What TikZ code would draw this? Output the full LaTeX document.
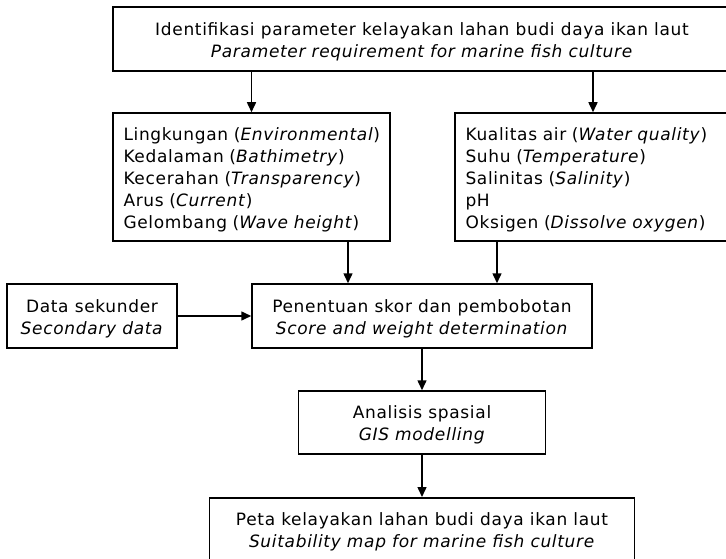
\documentclass[tikz,border=0pt]{standalone}
\usepackage{fontspec}
\setmainfont{DejaVu Sans}[LetterSpace=4]
\usetikzlibrary{arrows.meta}
\newcommand\topstrut{\rule{0pt}{18pt}}
\begin{document}
\begin{tikzpicture}[x=1pt,y=-1pt,
  box/.style={draw, line width=1.5pt, inner sep=0pt, align=center,
    font=\fontsize{17}{22}\selectfont},
  listbox/.style={draw, line width=1.5pt, inner xsep=10.5pt, inner ysep=0pt, align=left,
    font=\fontsize{17}{22}\selectfont},
  arr/.style={line width=1.5pt, -{Triangle[length=10pt,width=9pt]}}]
\useasboundingbox (0,0) rectangle (726,559);
\node[box, minimum width=618, minimum height=64] (top) at (422,39)
  {\topstrut Identifikasi parameter kelayakan lahan budi daya ikan laut\\\textit{Parameter requirement for marine fish culture}};
\node[listbox, text width=256, minimum height=128] (env) at (251.5,177)
  {\topstrut Lingkungan~(\textit{Environmental})\\Kedalaman~(\textit{Bathimetry})\\Kecerahan~(\textit{Transparency})\\Arus~(\textit{Current})\\Gelombang~(\textit{Wave~height})};
\node[listbox, text width=255, minimum height=128] (wq) at (593,177)
  {\topstrut Kualitas~air~(\textit{Water~quality})\\Suhu~(\textit{Temperature})\\Salinitas~(\textit{Salinity})\\pH\\Oksigen~(\textit{Dissolve~oxygen})};
\node[box, minimum width=170, minimum height=64] (sec) at (92,316)
  {\topstrut Data sekunder\\\textit{Secondary data}};
\node[box, minimum width=340, minimum height=64] (pen) at (422,316)
  {\topstrut Penentuan skor dan pembobotan\\\textit{Score and weight determination}};
\node[box, minimum width=247, minimum height=63] (gis) at (422,422.5)
  {\topstrut Analisis spasial\\\textit{GIS modelling}};
\node[box, minimum width=425, minimum height=64, anchor=north] (map) at (422,497)
  {\topstrut Peta kelayakan lahan budi daya ikan laut\\\textit{Suitability map for marine fish culture}};
\draw[arr] (env.north |- top.south) -- (env.north);
\draw[arr] (wq.north |- top.south) -- (wq.north);
\draw[arr] ([xshift=-74pt]pen.north |- env.south) -- ([xshift=-74pt]pen.north);
\draw[arr] ([xshift=75pt]pen.north |- wq.south) -- ([xshift=75pt]pen.north);
\draw[arr] (sec.east) -- (pen.west);
\draw[arr] (pen.south) -- (gis.north);
\draw[arr] (gis.south) -- (map.north);
\end{tikzpicture}
\end{document}
